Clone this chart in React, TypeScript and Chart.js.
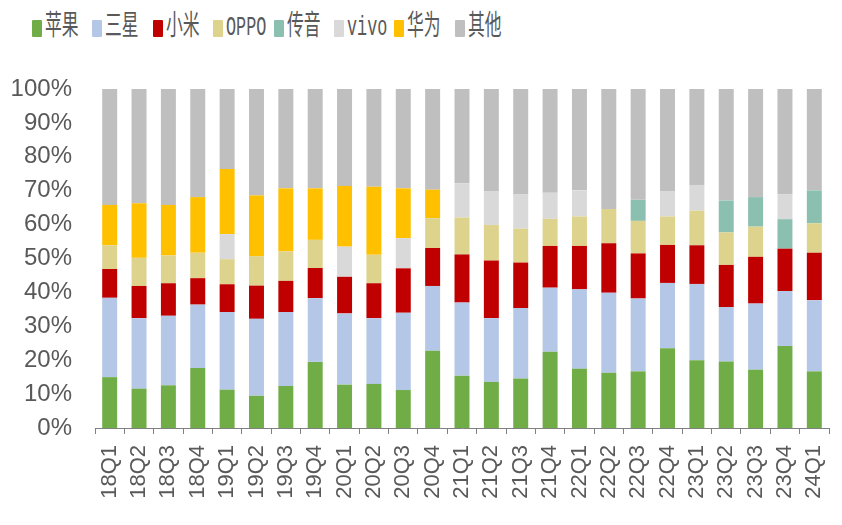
import React, { useEffect, useRef } from 'react';
import { Chart, registerables } from 'chart.js';

Chart.register(...registerables);

const quarters = [
  '18Q1', '18Q2', '18Q3', '18Q4', '19Q1', '19Q2', '19Q3', '19Q4',
  '20Q1', '20Q2', '20Q3', '20Q4', '21Q1', '21Q2', '21Q3', '21Q4',
  '22Q1', '22Q2', '22Q3', '22Q4', '23Q1', '23Q2', '23Q3', '23Q4', '24Q1',
];

// 出货量份额 (%)
const apple = [15.0, 11.6, 12.6, 17.7, 11.3, 9.5, 12.4, 19.5, 12.8, 13.0, 11.2, 22.8, 15.4, 13.6, 14.6, 22.5, 17.5, 16.3, 16.7, 23.5, 20.0, 19.6, 17.2, 24.2, 16.7];
const samsung = [23.4, 20.8, 20.5, 18.7, 22.9, 22.7, 21.8, 18.8, 21.0, 19.4, 22.8, 19.1, 21.6, 18.8, 20.8, 18.9, 23.4, 23.6, 21.5, 19.3, 22.5, 16.1, 19.5, 16.2, 21.0];
const xiaomi = [8.5, 9.5, 9.6, 7.8, 8.2, 9.8, 9.2, 8.9, 10.8, 10.3, 13.1, 11.2, 14.2, 17.0, 13.4, 12.3, 12.8, 14.6, 13.3, 11.2, 11.4, 12.4, 13.8, 12.5, 14.0];
const oppo = [7.0, 8.3, 8.2, 7.5, 7.4, 8.7, 8.7, 8.3, 0, 8.4, 0, 8.8, 10.9, 10.5, 10.0, 8.0, 8.7, 10.1, 9.6, 8.4, 10.2, 9.6, 8.9, 0, 8.7];
const transsion = [0, 0, 0, 0, 0, 0, 0, 0, 0, 0, 0, 0, 0, 0, 0, 0, 0, 0, 6.2, 0, 0, 9.4, 8.7, 8.7, 9.7];
const vivo = [0, 0, 0, 0, 7.4, 0, 0, 0, 8.9, 0, 8.9, 0, 10.1, 9.9, 10.1, 7.7, 7.7, 0, 0, 7.5, 7.6, 0, 0, 7.4, 0];
const huawei = [11.9, 16.1, 14.9, 16.4, 19.2, 17.9, 18.6, 15.2, 17.9, 20.1, 14.7, 8.4, 0, 0, 0, 0, 0, 0, 0, 0, 0, 0, 0, 0, 0];
const others = [34.2, 33.7, 34.2, 31.9, 23.6, 31.4, 29.3, 29.3, 28.6, 28.8, 29.3, 29.7, 27.8, 30.2, 31.1, 30.6, 29.9, 35.4, 32.7, 30.1, 28.3, 32.9, 31.9, 31.0, 29.9];

const series = [
  { label: '苹果', data: apple, color: '#70AD47' },
  { label: '三星', data: samsung, color: '#B4C7E7' },
  { label: '小米', data: xiaomi, color: '#C00000' },
  { label: 'OPPO', data: oppo, color: '#DDD38D' },
  { label: '传音', data: transsion, color: '#8BBFB0' },
  { label: 'vivo', data: vivo, color: '#D9D9D9' },
  { label: '华为', data: huawei, color: '#FFC000' },
  { label: '其他', data: others, color: '#BFBFBF' },
];

const TEXT = '#595959';
const AXIS = '#808080';

const Legend = () => (
  <div style={{ position: 'absolute', left: 32, top: 13, display: 'flex', height: 30 }}>
    {series.map((s) => (
      <div key={s.label} style={{ width: 60.4, display: 'flex', alignItems: 'center' }}>
        <span style={{ width: 10, height: 17, background: s.color, borderRadius: 1, flex: 'none' }} />
        <span
          style={{
            marginLeft: 3,
            fontFamily: "'Liberation Mono', 'Noto Sans CJK SC', sans-serif",
            fontSize: 28,
            lineHeight: '30px',
            color: TEXT,
            whiteSpace: 'nowrap',
            display: 'inline-block',
            transform: 'scaleX(0.6)',
            transformOrigin: 'left center',
          }}
        >
          {s.label}
        </span>
      </div>
    ))}
  </div>
);

const ShareChart = () => {
  const canvasRef = useRef<HTMLCanvasElement | null>(null);
  const chartRef = useRef<Chart | null>(null);

  useEffect(() => {
    if (!canvasRef.current) return;
    if (chartRef.current) chartRef.current.destroy();

    chartRef.current = new Chart(canvasRef.current, {
      type: 'bar',
      data: {
        labels: quarters,
        datasets: series.map((s) => ({
          label: s.label,
          data: s.data,
          backgroundColor: s.color,
          borderWidth: 0,
          barPercentage: 0.51,
          categoryPercentage: 1,
        })),
      },
      options: {
        responsive: true,
        maintainAspectRatio: false,
        animation: false,
        layout: { padding: { top: 89, right: 13, left: 0, bottom: 0 } },
        plugins: {
          legend: { display: false },
          tooltip: { enabled: false },
        },
        scales: {
          x: {
            stacked: true,
            grid: { display: true, drawOnChartArea: false, drawTicks: true, tickLength: 6, color: AXIS, offset: true },
            border: { display: true, color: AXIS, width: 1 },
            ticks: {
              autoSkip: false,
              maxRotation: 90,
              minRotation: 90,
              padding: 11,
              color: TEXT,
              font: { family: "'Liberation Sans', Arial, sans-serif", size: 22 },
            },
            afterFit: (axis: any) => {
              axis.height = 97;
              // rotated labels would otherwise reserve extra room on the right
              axis.paddingLeft = 0;
              axis.paddingRight = 0;
            },
          },
          y: {
            stacked: true,
            min: 0,
            max: 100,
            grid: { display: false, drawTicks: false },
            border: { display: false },
            ticks: {
              stepSize: 10,
              padding: 23,
              color: TEXT,
              font: { family: "'Liberation Sans', Arial, sans-serif", size: 24 },
              callback: (v: any) => `${v}%`,
            },
            afterFit: (axis: any) => {
              axis.width = 95;
            },
          },
        },
      },
    });

    return () => {
      if (chartRef.current) {
        chartRef.current.destroy();
        chartRef.current = null;
      }
    };
  }, []);

  return (
    <div style={{ position: 'absolute', left: 0, top: 0, width: 842, height: 525, background: '#fff' }}>
      <Legend />
      <div style={{ position: 'absolute', left: 0, top: 0, width: 842, height: 525 }}>
        <canvas ref={canvasRef} />
      </div>
    </div>
  );
};

export default function App() {
  return <ShareChart />;
}
